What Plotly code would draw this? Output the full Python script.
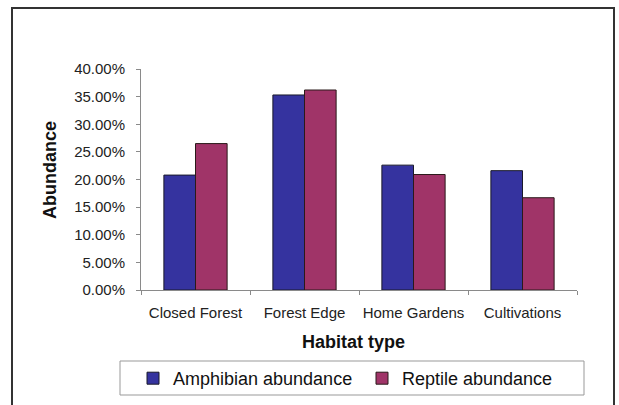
import plotly.graph_objects as go

categories = ["Closed Forest", "Forest Edge", "Home Gardens", "Cultivations"]
amphibian = [0.208, 0.353, 0.226, 0.216]
reptile = [0.265, 0.362, 0.209, 0.167]
y_ticks = [0, 0.05, 0.10, 0.15, 0.20, 0.25, 0.30, 0.35, 0.40]
y_tick_labels = ["0.00%", "5.00%", "10.00%", "15.00%", "20.00%", "25.00%", "30.00%", "35.00%", "40.00%"]

W, H = 619, 405
L, R, T, B = 141, 42, 69, 115
pw, ph = W - L - R, H - T - B

def px_x(x):
    return (x - L) / pw

def px_y(y):
    return (H - B - y) / ph

FONT = "Liberation Sans, Arial, sans-serif"

fig = go.Figure()
fig.add_trace(go.Bar(name="Amphibian abundance", x=categories, y=amphibian,
                     marker=dict(color="#35339f", line=dict(color="#1a1a2a", width=1))))
fig.add_trace(go.Bar(name="Reptile abundance", x=categories, y=reptile,
                     marker=dict(color="#a03468", line=dict(color="#2a1a1a", width=1))))

fig.update_layout(
    width=W, height=H,
    margin=dict(l=L, r=R, t=T, b=B, autoexpand=False),
    paper_bgcolor="white", plot_bgcolor="white",
    barmode="group", bargap=0.42, bargroupgap=0,
    font=dict(family=FONT, color="#222222"),
    showlegend=True,
    legend=dict(orientation="h", x=px_x(133), xanchor="left", y=px_y(360), yanchor="top",
                font=dict(size=18, color="#111111"), borderwidth=0, bgcolor="rgba(0,0,0,0)",
                itemwidth=30, entrywidth=184, entrywidthmode="pixels"),
)
fig.update_xaxes(showline=True, linecolor="#8a8a8a", linewidth=1, ticks="outside", tickson="boundaries",
                 ticklen=4, tickcolor="#8a8a8a", tickfont=dict(size=15, family=FONT, color="#222"),
                 tickangle=0, ticklabelstandoff=9, showgrid=False, zeroline=False)
fig.update_yaxes(range=[0, 0.4], tickvals=y_ticks, ticktext=y_tick_labels, showline=True,
                 linecolor="#8a8a8a", linewidth=1, ticks="outside", ticklen=4, tickcolor="#8a8a8a",
                 tickfont=dict(size=15, family=FONT, color="#222"), ticklabelstandoff=8,
                 showgrid=False, zeroline=False)

fig.add_annotation(text="<b>Habitat type</b>", xref="paper", yref="paper", x=px_x(353), y=px_y(342),
                   xanchor="center", yanchor="middle",
                   showarrow=False, font=dict(size=18, family=FONT, color="#111"))
fig.add_annotation(text="<b>Abundance</b>", xref="paper", yref="paper", x=px_x(50), y=px_y(170),
                   xanchor="center", yanchor="middle",
                   showarrow=False, textangle=-90, font=dict(size=18, family=FONT, color="#111"))

# legend box
fig.add_shape(type="rect", xref="paper", yref="paper", x0=px_x(120), x1=px_x(584),
              y0=px_y(395), y1=px_y(361), line=dict(color="#999999", width=1))
# outer chart border
fig.add_shape(type="rect", xref="paper", yref="paper", x0=px_x(12), x1=px_x(614),
              y0=px_y(412), y1=px_y(8), line=dict(color="#333333", width=2))

fig.write_html("out.html", config={"displayModeBar": False},
               post_script="document.body.style.margin='0';document.body.style.overflow='hidden';")
